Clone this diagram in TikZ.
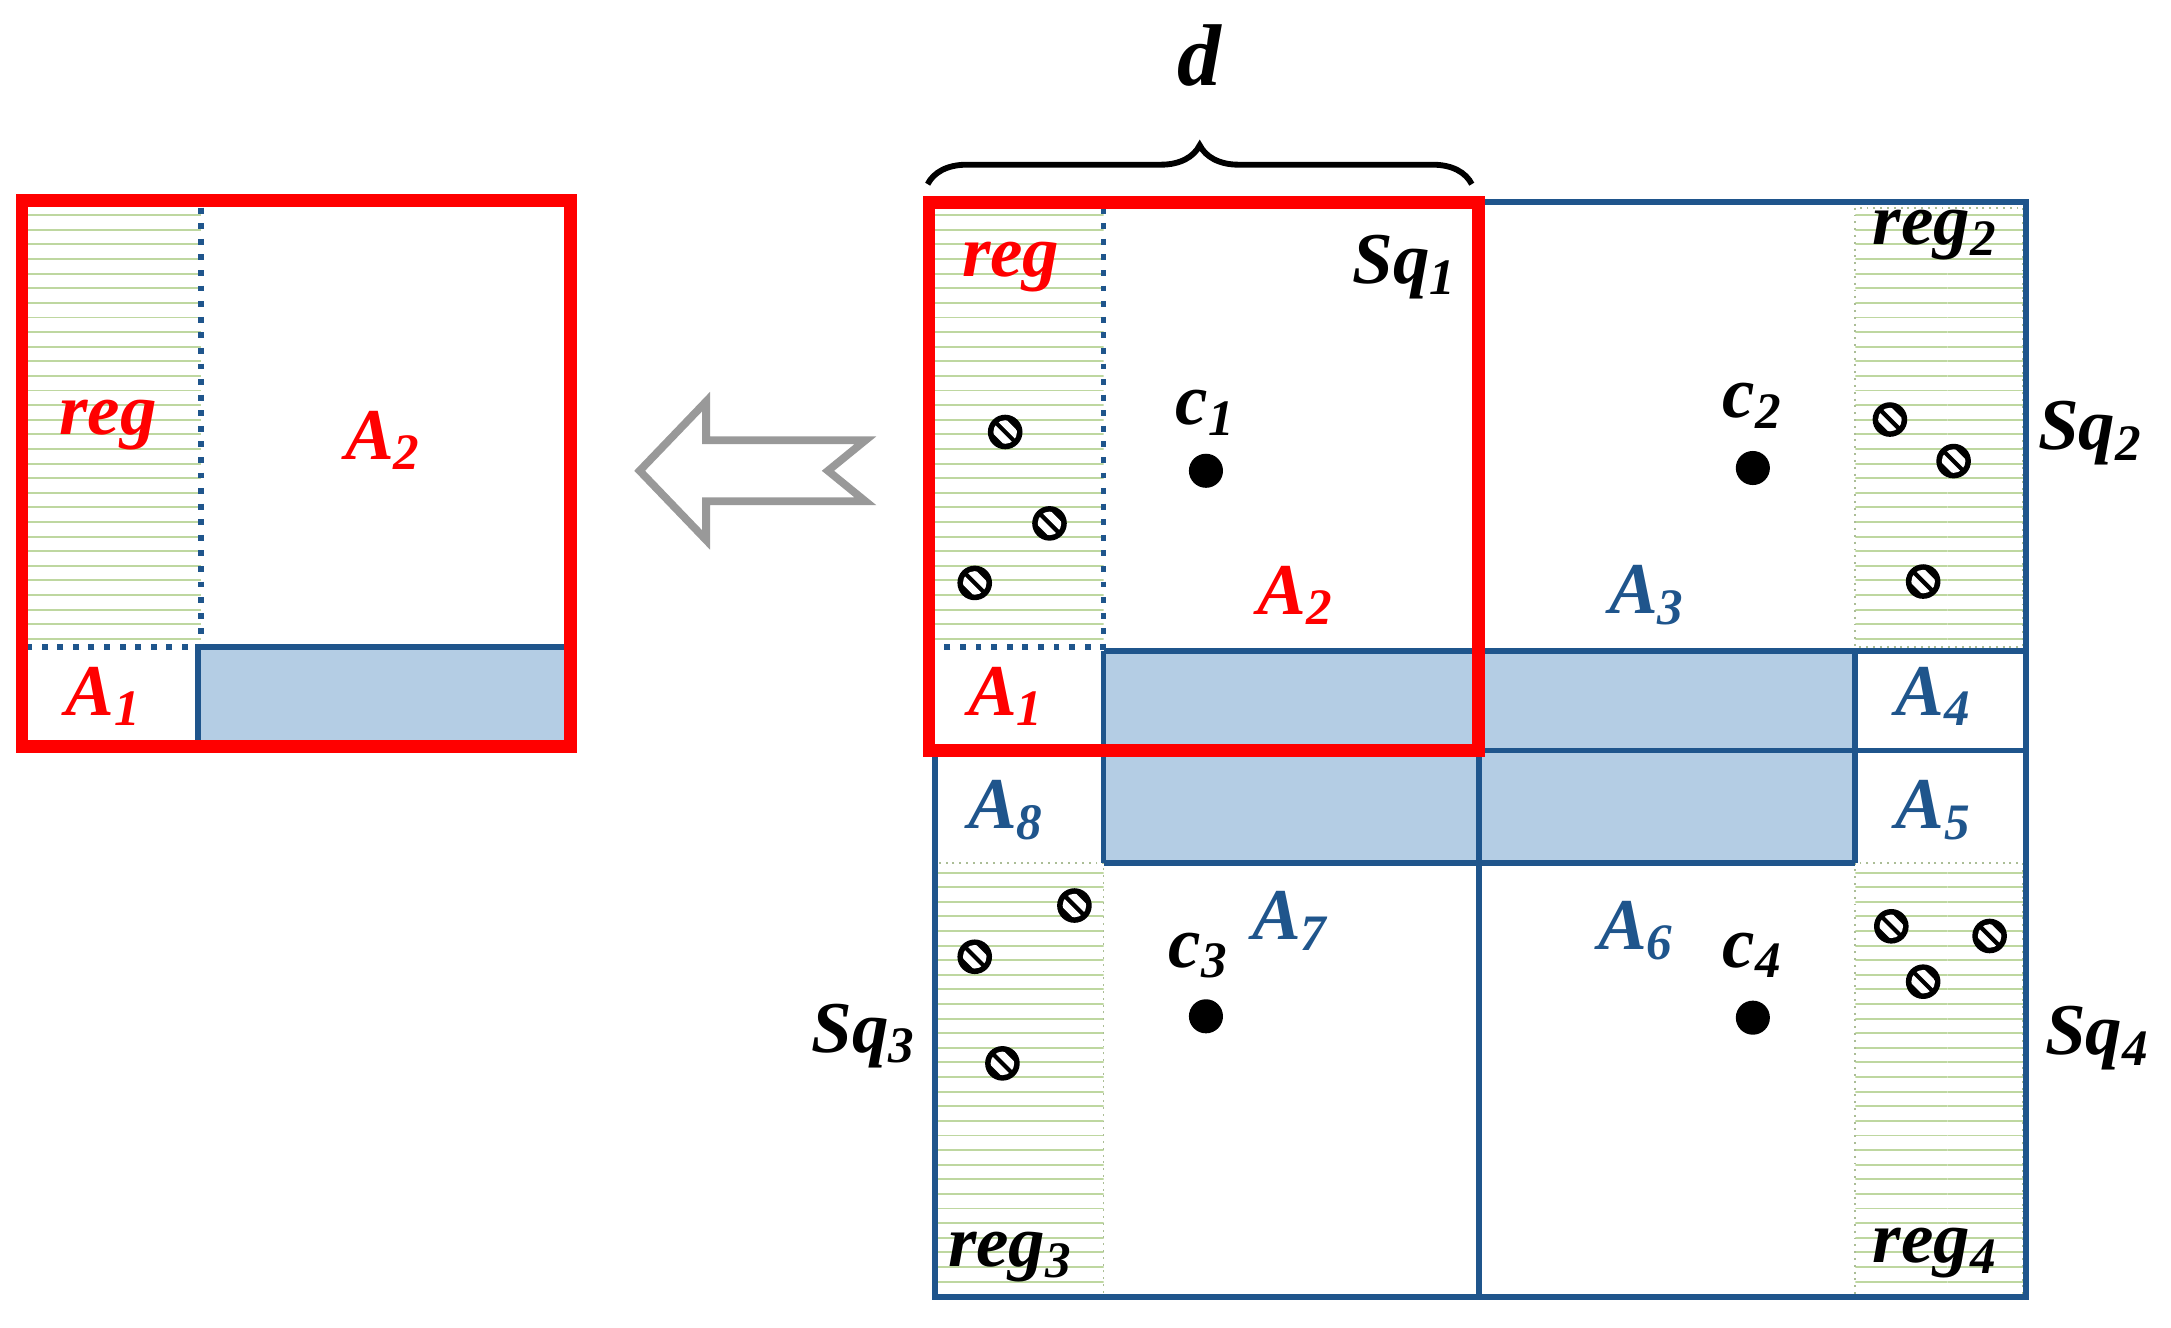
\documentclass[tikz,border=0pt]{standalone}
\usepackage{fontspec}
\newfontfamily\tms{Liberation Serif}
\usetikzlibrary{patterns,decorations.pathreplacing}

\definecolor{gridblue}{RGB}{31,85,140}
\definecolor{cellfill}{RGB}{180,205,228}
\definecolor{reggreen}{RGB}{190,215,160}

\tikzset{
	lbl/.style={font=\tms\fontsize{15}{18}\selectfont\bfseries\itshape},
	redlbl/.style={lbl, text=red},
	bluelbl/.style={lbl, text=gridblue},
	grid/.style={draw=gridblue, line width=1.2pt},
	frame/.style={draw=red, line width=2.6pt},
	regfill/.style={pattern=horizontal lines, pattern color=reggreen},
	regedge/.style={draw=gridblue, line width=1.2pt, dotted},
	thinedge/.style={draw=reggreen!70!gray, densely dotted, line width=0.4pt},
	centre/.style={circle, fill=black, inner sep=0pt, minimum size=7pt},
	hatchdot/.pic={
		\fill[black] (0,0) circle (12.5);
		\begin{scope}
			\clip (0,0) circle (8.5);
			\draw[white, line width=1.5pt] (-7,-13) -- (13,7);
			\draw[white, line width=1.5pt] (-13,-7) -- (7,13);
		\end{scope}
	}
}

\begin{document}
\begin{tikzpicture}[x=0.01cm, y=-0.01cm]
	\useasboundingbox (0,0) rectangle (1568,959);

	% left enlarged square
	\fill[regfill] (20,150) rectangle (145,467);
	\fill[cellfill] (143,467) rectangle (410,535);
	\draw[grid] (143,535) -- (143,467) -- (410,467);
	\draw[regedge] (145,150) -- (145,467) -- (20,467);
	\draw[frame] (16,145) rectangle (412,539);
	\node[redlbl] (lreg) at (78,307) {reg};
	\node[redlbl] (lA2) at (277,318) {A\textsubscript{2}};
	\node[redlbl] (lA1) at (75,503) {A\textsubscript{1}};

	% hollow arrow
	\draw[gray!80, line width=1.6pt, line join=miter]
		(462,340) -- (510,290) -- (510,318) -- (625,318) -- (598,340)
		-- (625,362) -- (510,362) -- (510,390) -- cycle;

	% right grid
	\fill[regfill] (673,150) rectangle (797,467);
	\fill[regfill] (677,623) rectangle (797,935);
	\fill[regfill] (1340,150) rectangle (1461,467);
	\fill[regfill] (1340,623) rectangle (1461,935);
	\fill[cellfill] (797,470) rectangle (1340,623);
	\draw[thinedge] (1340,150) rectangle (1461,467);
	\draw[thinedge] (1340,623) rectangle (1461,935);
	\draw[thinedge] (677,623) rectangle (797,935);
	\draw[regedge] (797,150) -- (797,467) -- (673,467);

	\draw[grid] (1068,146) -- (1463,146) -- (1463,937) -- (675,937) -- (675,542);
	\draw[grid] (1068,146) -- (1068,937);
	\draw[grid] (797,470) -- (1463,470);
	\draw[grid] (675,542) -- (1463,542);
	\draw[grid] (797,623) -- (1340,623);
	\draw[grid] (797,470) -- (797,623);
	\draw[grid] (1340,470) -- (1340,623);

	\draw[frame] (671,146) rectangle (1068,542);

	% brace
	\draw[line width=1.2pt, decorate, decoration={brace, amplitude=8pt}]
		(670,133) -- (1063,133);
	\node[lbl, font=\tms\fontsize{18}{20}\selectfont\bfseries\itshape] (d) at (866,40) {d};

	% centres
	\node[centre] (c1) at (871,340) {};
	\node[centre] (c2) at (1266,338) {};
	\node[centre] (c3) at (871,734) {};
	\node[centre] (c4) at (1266,735) {};
	\node[lbl] (c1l) at (871,298) {c\textsubscript{1}};
	\node[lbl] (c2l) at (1266,293) {c\textsubscript{2}};
	\node[lbl] (c3l) at (866,690) {c\textsubscript{3}};
	\node[lbl] (c4l) at (1266,690) {c\textsubscript{4}};

	% region and square labels
	\node[redlbl] (reg1) at (730,193) {reg};
	\node[lbl] (reg2) at (1398,170) {reg\textsubscript{2}};
	\node[lbl] (reg3) at (730,908) {reg\textsubscript{3}};
	\node[lbl] (reg4) at (1398,905) {reg\textsubscript{4}};
	\node[lbl] (sq1) at (1015,193) {Sq\textsubscript{1}};
	\node[lbl] (sq2) at (1510,313) {Sq\textsubscript{2}};
	\node[lbl] (sq3) at (624,748) {Sq\textsubscript{3}};
	\node[lbl] (sq4) at (1515,750) {Sq\textsubscript{4}};

	% area labels
	\node[redlbl] (a2) at (936,430) {A\textsubscript{2}};
	\node[bluelbl] (a3) at (1190,430) {A\textsubscript{3}};
	\node[redlbl] (a1) at (727,503) {A\textsubscript{1}};
	\node[bluelbl] (a4) at (1397,503) {A\textsubscript{4}};
	\node[bluelbl] (a8) at (727,585) {A\textsubscript{8}};
	\node[bluelbl] (a5) at (1397,585) {A\textsubscript{5}};
	\node[bluelbl] (a7) at (932,665) {A\textsubscript{7}};
	\node[bluelbl] (a6) at (1182,672) {A\textsubscript{6}};

	% points in the regions
	\foreach \px/\py in {726/312, 758/378, 704/421, 1365/303, 1411/333, 1389/420,
		776/654, 704/691, 724/768, 1366/669, 1437/676, 1389/709}
		\pic at (\px,\py) {hatchdot};
\end{tikzpicture}
\end{document}
